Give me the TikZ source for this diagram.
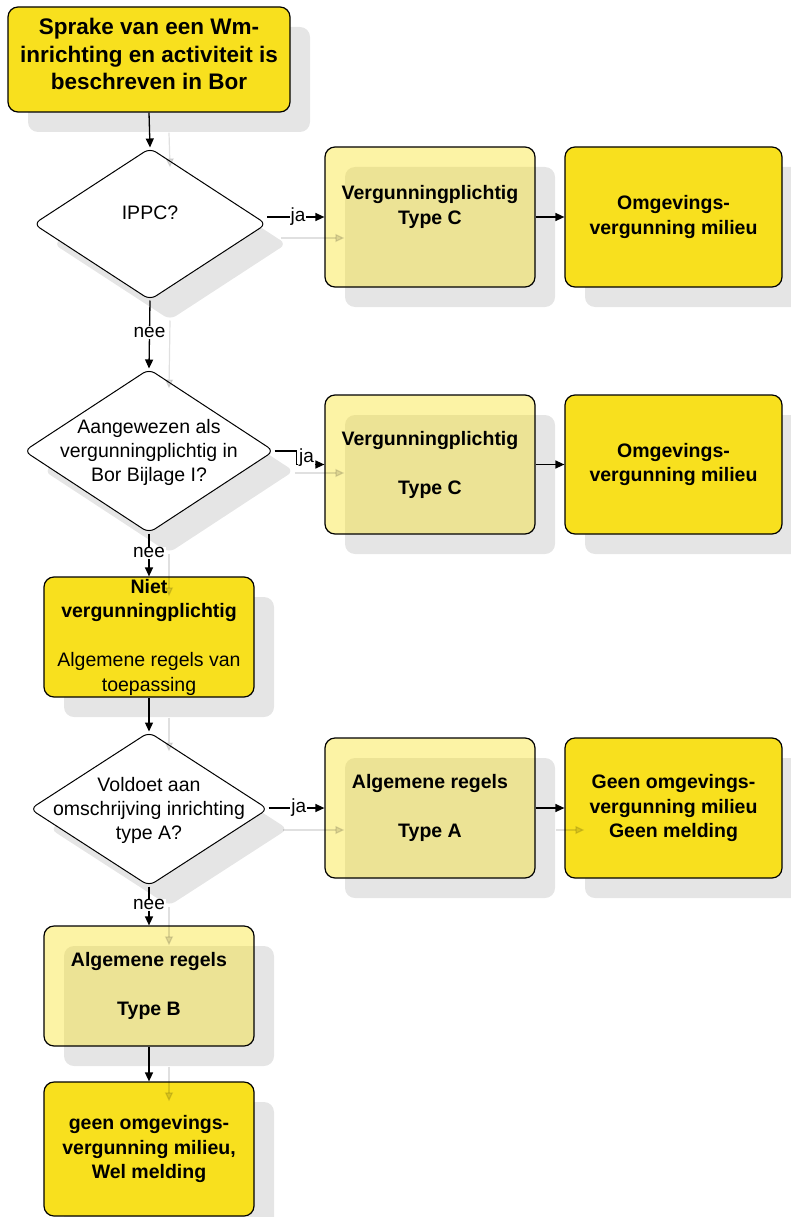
\documentclass[tikz,border=0pt]{standalone}
\usepackage{fontspec}
\setmainfont{Liberation Sans}
\usetikzlibrary{shapes.geometric,shadows,arrows.meta}
\definecolor{ybright}{RGB}{248,224,30}
\definecolor{shadowgray}{RGB}{229,229,229}
\begin{document}
\begin{tikzpicture}[x=1pt,y=-1pt,
  shadowed/.style={drop shadow={shadow xshift=20pt,shadow yshift=-20pt,opacity=1,fill=shadowgray}},
  box/.style={rectangle, rounded corners=10pt, draw=black, line width=1.2pt, align=center, inner sep=0pt, shadowed, font=\bfseries\fontsize{19.5}{24.5}\selectfont},
  ybox/.style={box, fill=ybright},
  lbox/.style={box, fill=ybright, fill opacity=0.4, text opacity=1},
  dec/.style={diamond, draw=black, line width=1pt, fill=white, rounded corners=7pt, inner sep=0pt, shadowed},
  dectext/.style={align=center, inner sep=0pt, font=\fontsize{19.5}{24}\selectfont},
  arr/.style={draw=black, line width=1.3pt, -{Triangle[length=9pt,width=8pt]}},
  lbl/.style={fill=white, inner sep=1pt, font=\fontsize{19}{22}\selectfont},
  ghost/.style={draw=black, draw opacity=0.12, fill opacity=0.12, line width=1.2pt, -{Triangle[length=9pt,width=8pt]}}]
\useasboundingbox (0,0) rectangle (790,1217);

% nodes
\node[ybox, minimum width=282pt, minimum height=105pt, font=\bfseries\fontsize{22.5}{27.5}\selectfont] (top) at (149,59.5) {Sprake van een Wm-\\inrichting en activiteit is\\beschreven in Bor\\[-17pt]\mbox{}};
\node[dec, minimum width=233pt, minimum height=152pt] (d1) at (150,224) {};
\node[dectext] (d1t) at (150,213) {IPPC?};
\node[lbox, minimum width=210pt, minimum height=140pt] (c1) at (430,217) {Vergunningplichtig\\Type C\\\mbox{}};
\node[ybox, minimum width=217pt, minimum height=140pt] (o1) at (673.5,217) {Omgevings-\\vergunning milieu};

\node[dec, minimum width=250pt, minimum height=164pt] (d2) at (149,451) {};
\node[dectext] (d2t) at (149,452) {Aangewezen als\\vergunningplichtig in\\Bor Bijlage I?};
\node[lbox, minimum width=210pt, minimum height=139pt] (c2) at (430,464.5) {Vergunningplichtig\\\mbox{}\\Type C};
\node[ybox, minimum width=217pt, minimum height=139pt] (o2) at (673.5,464.5) {Omgevings-\\vergunning milieu};

\node[ybox, minimum width=210pt, minimum height=120pt] (niet) at (149,637) {Niet\\vergunningplichtig\\\mbox{}\\\mdseries Algemene regels van\\\mdseries toepassing};

\node[dec, minimum width=238pt, minimum height=154pt] (d3) at (149,809) {};
\node[dectext] (d3t) at (149,810) {Voldoet aan\\omschrijving inrichting\\type A?};
\node[lbox, minimum width=210pt, minimum height=140pt] (a) at (430,808) {Algemene regels\\\mbox{}\\Type A};
\node[ybox, minimum width=217pt, minimum height=140pt] (g) at (673.5,808) {Geen omgevings-\\vergunning milieu\\Geen melding};

\node[lbox, minimum width=210pt, minimum height=120pt] (b) at (149,986) {Algemene regels\\\mbox{}\\Type B};
\node[ybox, minimum width=210pt, minimum height=134pt] (f) at (149,1149) {geen omgevings-\\vergunning milieu,\\Wel melding};

% ghost (shadow) connectors
\draw[ghost] ([shift={(20,20)}]top.south) -- ([shift={(20,20)}]d1.north);
\draw[ghost] ([shift={(20,20)}]d1.south) -- ([shift={(20,20)}]d2.north);
\draw[ghost] ([shift={(20,20)}]d2.south) -- ([shift={(20,20)}]niet.north);
\draw[ghost] ([shift={(20,20)}]niet.south) -- ([shift={(20,20)}]d3.north);
\draw[ghost] ([shift={(20,20)}]d3.south) -- ([shift={(20,20)}]b.north);
\draw[ghost] ([shift={(20,20)}]b.south) -- ([shift={(20,20)}]f.north);
\draw[ghost] ([shift={(14,21)}]c1.west -| d1.east) -- ([shift={(20,21)}]c1.west);
\draw[ghost] ([shift={(20,22)}]d2.east) -- ([shift={(20,22)}]d2.east -| c2.west);
\draw[ghost] ([shift={(14,22)}]a.west -| d3.east) -- ([shift={(20,22)}]a.west);
\draw[ghost] ([shift={(20,22)}]a.east) -- ([shift={(20,22)}]g.west);

% connectors
\draw[arr] (top.south) -- (d1.north);
\draw[arr] (c1.west -| d1.east) -- node[lbl, pos=0.54] {ja} (c1.west);
\draw[arr] (c1.east) -- (o1.west);
\draw[arr] (d1.south) -- node[lbl, pos=0.47] {nee} (d2.north);
\draw[arr] (d2.east) -- ++(22,0) |- node[lbl, pos=0.25, anchor=west, xshift=1pt] {ja} (c2.west);
\draw[arr] (c2.east) -- (o2.west);
\draw[arr] (d2.south) -- node[lbl, pos=0.45] {nee} (niet.north);
\draw[arr] (niet.south) -- (d3.north);
\draw[arr] (a.west -| d3.east) -- node[lbl, pos=0.54] {ja} (a.west);
\draw[arr] (a.east) -- (g.west);
\draw[arr] (d3.south) -- node[lbl, pos=0.47] {nee} (b.north);
\draw[arr] (b.south) -- (f.north);
\end{tikzpicture}
\end{document}
